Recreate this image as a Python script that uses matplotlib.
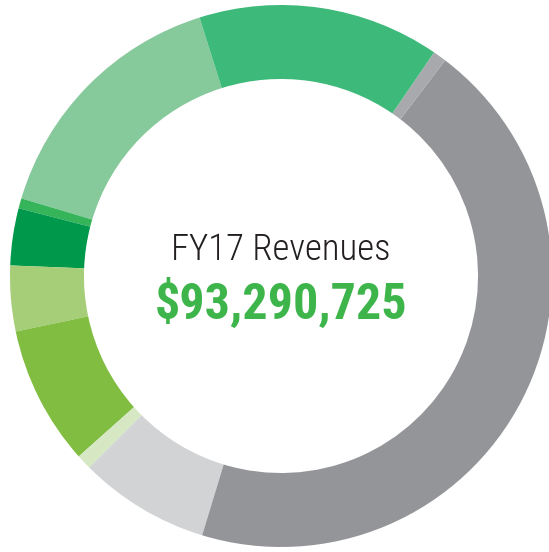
import matplotlib
matplotlib.use('Agg')
import matplotlib.pyplot as plt
from matplotlib import font_manager

# FY17 revenue split (share of total, %), counter-clockwise from the top
segments = ['Seg A', 'Seg B', 'Seg C', 'Seg D', 'Seg E',
            'Seg F', 'Seg G', 'Seg H', 'Seg I', 'Seg J']
shares = [15.5, 0.6, 3.4, 3.9, 8.3, 0.9, 7.8, 44.3, 0.8, 14.4]
colors = ['#86C99B', '#36B45A', '#00984A', '#A6CD78', '#80BD41',
          '#D5E8C3', '#D1D3D4', '#939598', '#A7A9AC', '#3DB97A']
title = 'FY17 Revenues'
total = '$93,290,725'

# pick a narrow face if one is around
names = {f.name for f in font_manager.fontManager.ttflist}
narrow = [n for n in ['Roboto Condensed', 'Liberation Sans Narrow',
                      'Open Sans Condensed'] if n in names]
fam = narrow + ['DejaVu Sans']

fig = plt.figure(figsize=(5.49, 5.52), dpi=100)
ax = fig.add_axes([0, 0, 1, 1])

ax.pie(shares, colors=colors, startangle=107.5, counterclock=True,
       wedgeprops=dict(width=0.273, linewidth=0))

ax.set_aspect('auto')
ax.set_xlim(-281 / 271, (549 - 281) / 271)
ax.set_ylim(-(552 - 276) / 271, 276 / 271)
ax.axis('off')

ax.text(0, 0.058, title, ha='center', va='baseline', fontsize=26.5,
        family=fam, fontstretch='condensed', fontweight='light',
        color='#231F20')
ax.text(0, -0.16, total, ha='center', va='baseline', fontsize=36,
        fontweight='bold', family=fam, fontstretch='condensed',
        color='#3DB54A')

fig.savefig('out.png', dpi=100)
